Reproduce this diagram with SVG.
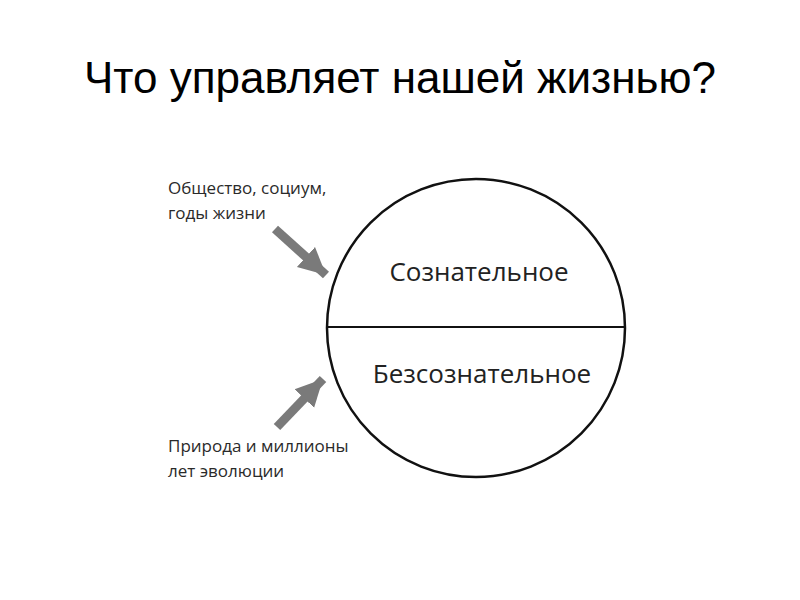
<svg xmlns="http://www.w3.org/2000/svg" width="800" height="600" viewBox="0 0 800 600">
<defs>
<style>
.title{font-family:"Liberation Sans",Arial,sans-serif;font-size:44px;fill:#000}
.lbl{font-family:"Open Sans","DejaVu Sans",sans-serif;font-size:17px;fill:#2a2a2a}
.big{font-family:"Open Sans","DejaVu Sans",sans-serif;font-size:26px;fill:#222}
.arr{stroke:#7a7a7a;stroke-width:9;fill:none}
</style>
<marker id="ah" viewBox="0 0 10 10" refX="10" refY="5" markerWidth="3" markerHeight="3.2" orient="auto" markerUnits="strokeWidth">
<path d="M0,0 L10,5 L0,10 Z" fill="#7a7a7a"/>
</marker>
</defs>
<rect width="800" height="600" fill="#fff"/>
<text class="title" x="400" y="93" text-anchor="middle">Что управляет нашей жизнью?</text>
<g id="mind">
<circle cx="476" cy="328" r="149" fill="none" stroke="#111" stroke-width="2.5"/>
<line x1="327" y1="327" x2="625" y2="327" stroke="#111" stroke-width="2"/>
</g>
<g id="conscious"><text class="big" x="479" y="281" text-anchor="middle">Сознательное</text></g>
<g id="unconscious"><text class="big" x="482" y="383" text-anchor="middle">Безсознательное</text></g>
<g id="society"><text class="lbl" x="168" y="194">Общество, социум,</text><text class="lbl" x="168" y="219">годы жизни</text></g>
<g id="nature"><text class="lbl" x="168" y="452">Природа и миллионы</text><text class="lbl" x="168" y="477">лет эволюции</text></g>
<g id="connectors">
<line class="arr" x1="275" y1="229" x2="326" y2="275" marker-end="url(#ah)"/>
<line class="arr" x1="277" y1="427" x2="323" y2="379" marker-end="url(#ah)"/>
</g>
</svg>
